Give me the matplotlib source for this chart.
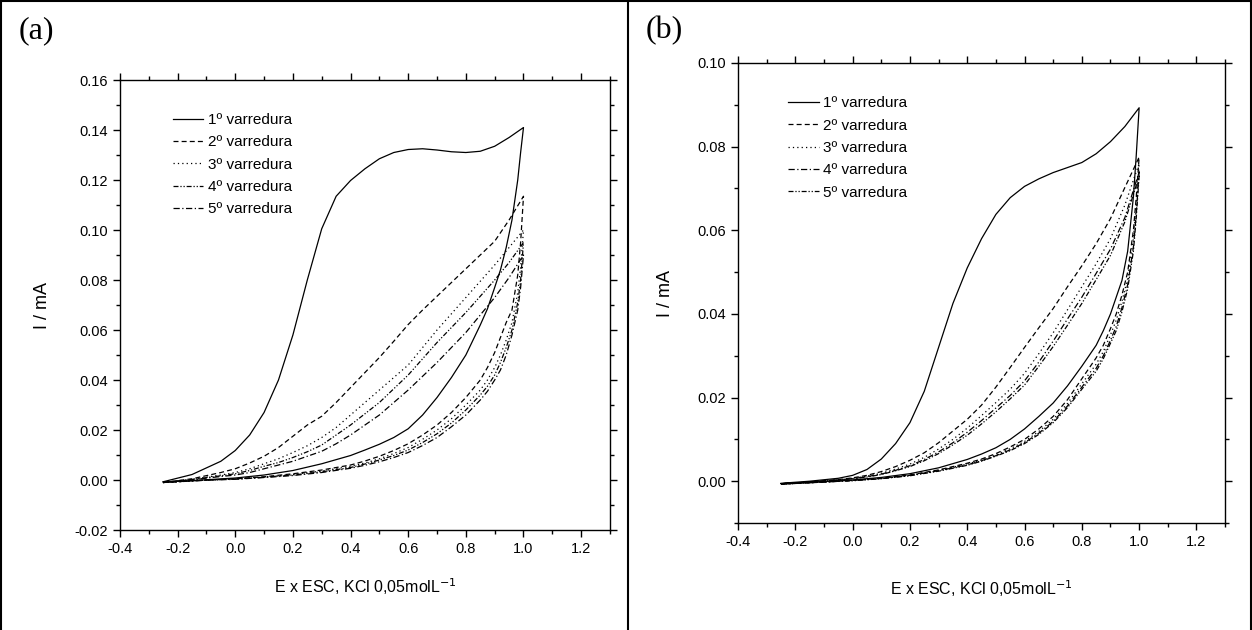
import matplotlib
matplotlib.use("Agg")
import matplotlib.pyplot as plt
from matplotlib.lines import Line2D
from matplotlib.ticker import MultipleLocator, FormatStrFormatter
from matplotlib import font_manager

installed = {f.name for f in font_manager.fontManager.ttflist}
sans = [f for f in ['Liberation Sans Narrow', 'Liberation Sans'] if f in installed] + ['DejaVu Sans']
plt.rcParams['font.family'] = sans
narrow = sans[0] == 'Liberation Sans Narrow'

# potential grids (V vs ESC): forward (anodic) and backward sweep
E_up = [-0.25, -0.15, -0.05, 0.0, 0.05, 0.1, 0.15, 0.2, 0.25, 0.3, 0.35, 0.4,
        0.45, 0.5, 0.55, 0.6, 0.65, 0.7, 0.75, 0.8, 0.85, 0.9, 0.95, 1.0]
E_down = [1.0, 0.99, 0.98, 0.96, 0.94, 0.92, 0.9, 0.875, 0.85, 0.8, 0.75, 0.7,
          0.65, 0.6, 0.55, 0.5, 0.45, 0.4, 0.3, 0.2, 0.1, 0.0, -0.1, -0.25]

labels = ['1º varredura', '2º varredura', '3º varredura', '4º varredura', '5º varredura']

# panel (a), current in mA
a1_up = [-0.0007, 0.0022, 0.0075, 0.0118, 0.018, 0.027, 0.040, 0.058, 0.080, 0.1005, 0.1135, 0.1198,
         0.1245, 0.1285, 0.131, 0.1322, 0.1325, 0.132, 0.1313, 0.131, 0.1315, 0.1335, 0.137, 0.141]
a2_up = [-0.001, 0.0005, 0.003, 0.0045, 0.0068, 0.0095, 0.013, 0.0175, 0.022, 0.0255, 0.031, 0.037,
         0.043, 0.049, 0.0555, 0.0622, 0.068, 0.0735, 0.079, 0.0845, 0.090, 0.0955, 0.104, 0.1135]
a3_up = [-0.001, 0.0003, 0.002, 0.003, 0.0045, 0.0065, 0.0085, 0.011, 0.0137, 0.017, 0.021, 0.026,
         0.031, 0.036, 0.041, 0.046, 0.053, 0.060, 0.0665, 0.073, 0.0795, 0.086, 0.093, 0.100]
a4_up = [-0.001, 0.0002, 0.0017, 0.0025, 0.0038, 0.0055, 0.007, 0.009, 0.0113, 0.014, 0.018, 0.022,
         0.0265, 0.031, 0.0365, 0.042, 0.0485, 0.055, 0.061, 0.067, 0.0735, 0.080, 0.087, 0.095]
a5_up = [-0.001, 0.0001, 0.0014, 0.002, 0.003, 0.0045, 0.006, 0.0075, 0.0095, 0.0115, 0.0145, 0.018,
         0.022, 0.026, 0.031, 0.036, 0.0415, 0.047, 0.053, 0.059, 0.066, 0.073, 0.081, 0.090]

a1_down = [0.141, 0.131, 0.120, 0.104, 0.093, 0.084, 0.077, 0.0685, 0.062, 0.050, 0.041, 0.033,
           0.026, 0.0205, 0.017, 0.0143, 0.012, 0.0098, 0.0065, 0.0038, 0.002, 0.0008, 0.0001, -0.0008]
a2_down = [0.1135, 0.095, 0.082, 0.068, 0.063, 0.057, 0.051, 0.045, 0.040, 0.033, 0.027, 0.022,
           0.018, 0.0145, 0.0118, 0.0095, 0.0076, 0.006, 0.004, 0.0025, 0.0013, 0.0005, 0.0, -0.001]
a3_down = [0.100, 0.085, 0.075, 0.063, 0.056, 0.050, 0.045, 0.040, 0.036, 0.030, 0.0245, 0.020,
           0.0163, 0.013, 0.0106, 0.0085, 0.0068, 0.0055, 0.0036, 0.0022, 0.0012, 0.0004, 0.0, -0.001]
a4_down = [0.095, 0.080, 0.071, 0.060, 0.053, 0.047, 0.042, 0.0375, 0.034, 0.028, 0.0228, 0.0185,
           0.015, 0.012, 0.0098, 0.008, 0.0064, 0.005, 0.0033, 0.002, 0.0011, 0.0004, 0.0, -0.001]
a5_down = [0.090, 0.077, 0.068, 0.058, 0.050, 0.044, 0.040, 0.0355, 0.032, 0.026, 0.0213, 0.017,
           0.0138, 0.011, 0.009, 0.0073, 0.0059, 0.0047, 0.003, 0.0018, 0.001, 0.0003, -0.0001, -0.001]

# panel (b)
b1_up = [-0.0005, 0.0, 0.0007, 0.0014, 0.0028, 0.0053, 0.0090, 0.0140, 0.0215, 0.032, 0.0425, 0.051,
         0.058, 0.0638, 0.0678, 0.0705, 0.0723, 0.0738, 0.075, 0.0762, 0.0783, 0.0812, 0.0848, 0.0893]
b2_up = [-0.0006, -0.0002, 0.0004, 0.0008, 0.0014, 0.0023, 0.0035, 0.0050, 0.0068, 0.0092, 0.0120, 0.0148,
         0.0182, 0.0225, 0.0272, 0.032, 0.0367, 0.0413, 0.0465, 0.0515, 0.0568, 0.0628, 0.0702, 0.0775]
b3_up = [-0.0006, -0.0002, 0.0003, 0.0007, 0.0012, 0.0019, 0.0029, 0.0041, 0.0057, 0.0077, 0.0100, 0.0127,
         0.0157, 0.0188, 0.0220, 0.0258, 0.0305, 0.0355, 0.0410, 0.0465, 0.0520, 0.0580, 0.0660, 0.0760]
b4_up = [-0.0006, -0.0002, 0.0003, 0.0006, 0.0011, 0.0017, 0.0026, 0.0037, 0.0052, 0.0070, 0.0092, 0.0117,
         0.0145, 0.0175, 0.0205, 0.0240, 0.0285, 0.0335, 0.0388, 0.0440, 0.0497, 0.0555, 0.0630, 0.0740]
b5_up = [-0.0006, -0.0002, 0.0003, 0.0006, 0.0010, 0.0016, 0.0025, 0.0035, 0.0049, 0.0066, 0.0087, 0.0110,
         0.0137, 0.0166, 0.0197, 0.0230, 0.0275, 0.0322, 0.0373, 0.0425, 0.0482, 0.0540, 0.0620, 0.0730]

b1_down = [0.0893, 0.078, 0.068, 0.055, 0.048, 0.044, 0.040, 0.036, 0.0325, 0.0275, 0.0228, 0.0187,
           0.0155, 0.0125, 0.010, 0.008, 0.0065, 0.0052, 0.0032, 0.0018, 0.0009, 0.0003, -0.0001, -0.0006]
b2_down = [0.0775, 0.068, 0.060, 0.050, 0.0445, 0.040, 0.0365, 0.0325, 0.0295, 0.0245, 0.0195, 0.0155,
           0.0125, 0.0100, 0.0082, 0.0066, 0.0053, 0.0043, 0.0027, 0.0015, 0.0007, 0.0002, -0.0002, -0.0007]
b3_down = [0.076, 0.066, 0.058, 0.0485, 0.043, 0.0385, 0.035, 0.031, 0.028, 0.0233, 0.0186, 0.0148,
           0.0119, 0.0095, 0.0078, 0.0063, 0.0051, 0.0041, 0.0026, 0.0014, 0.0007, 0.0002, -0.0002, -0.0007]
b4_down = [0.074, 0.064, 0.056, 0.047, 0.0415, 0.037, 0.0337, 0.030, 0.027, 0.0225, 0.018, 0.0143,
           0.0115, 0.0092, 0.0075, 0.0061, 0.0049, 0.0039, 0.0025, 0.0014, 0.0006, 0.0002, -0.0002, -0.0007]
b5_down = [0.073, 0.063, 0.055, 0.046, 0.0405, 0.036, 0.033, 0.0293, 0.0263, 0.022, 0.0176, 0.014,
           0.0112, 0.009, 0.0073, 0.006, 0.0048, 0.0038, 0.0024, 0.0013, 0.0006, 0.0001, -0.0002, -0.0007]

solid = '-'
dashed = (0, (4, 2.5))
dotted = (0, (1, 2.5))
dashdot = (0, (5, 2, 1, 2))
dashdotdot = (0, (4, 1.5, 1, 1.5, 1, 1.5))

panels = [
    dict(pos=[0.0958, 0.1587, 0.3914, 0.7143], ylim=(-0.02, 0.16), tag='(a)', tagx=0.015,
         up=[a1_up, a2_up, a3_up, a4_up, a5_up],
         down=[a1_down, a2_down, a3_down, a4_down, a5_down],
         styles=[solid, dashed, dotted, dashdotdot, dashdot],
         leg=(0.108, 0.927), xpad=15),
    dict(pos=[0.5895, 0.1698, 0.389, 0.7302], ylim=(-0.01, 0.10), tag='(b)', tagx=0.516,
         up=[b1_up, b2_up, b3_up, b4_up, b5_up],
         down=[b1_down, b2_down, b3_down, b4_down, b5_down],
         styles=[solid, dashed, dotted, dashdot, dashdotdot],
         leg=(0.103, 0.928), xpad=21),
]

tick_fs = 12 if narrow else 10.5
leg_fs = 12.5 if narrow else 11
xlab_fs = 13 if narrow else 11.5
ylab_fs = 15 if narrow else 13

fig = plt.figure(figsize=(12.52, 6.30), dpi=100)

for p in panels:
    ax = fig.add_axes(p['pos'])
    for up, down, ls, lab in zip(p['up'], p['down'], p['styles'], labels):
        ax.plot(E_up + E_down[1:], up + down[1:], color='black', lw=0.9, ls=ls, label=lab)
    ax.set_xlim(-0.4, 1.3)
    ax.set_ylim(*p['ylim'])
    ax.xaxis.set_major_locator(MultipleLocator(0.2))
    ax.xaxis.set_minor_locator(MultipleLocator(0.1))
    ax.yaxis.set_major_locator(MultipleLocator(0.02))
    ax.yaxis.set_minor_locator(MultipleLocator(0.01))
    ax.xaxis.set_major_formatter(FormatStrFormatter('%.1f'))
    ax.yaxis.set_major_formatter(FormatStrFormatter('%.2f'))
    ax.tick_params(which='both', direction='out', top=True, right=True, labelsize=tick_fs, width=1)
    ax.tick_params(which='major', length=5)
    ax.tick_params(which='minor', length=3)
    for s in ax.spines.values():
        s.set_linewidth(1.0)
    ax.set_xlabel('E x ESC, KCl 0,05molL$^{-1}$', fontsize=xlab_fs, labelpad=p['xpad'])
    ax.set_ylabel('I / mA', fontsize=ylab_fs, labelpad=17)
    ax.legend(loc='upper left', bbox_to_anchor=p['leg'], frameon=False, fontsize=leg_fs,
              handlelength=2.0, handletextpad=0.3, labelspacing=0.55, borderpad=0, borderaxespad=0)
    fig.text(p['tagx'], 0.975, p['tag'], family=['Liberation Serif', 'DejaVu Serif'],
             fontsize=23, va='top', ha='left')

# table-like frame around the two panels
for xs, ys in [([0.0008, 0.0008], [0, 1]), ([0.9992, 0.9992], [0, 1]),
               ([0, 1], [0.9985, 0.9985]), ([0.5016, 0.5016], [0, 1])]:
    fig.add_artist(Line2D(xs, ys, transform=fig.transFigure, color='black', lw=1.5))

fig.savefig('out.png', dpi=100)
